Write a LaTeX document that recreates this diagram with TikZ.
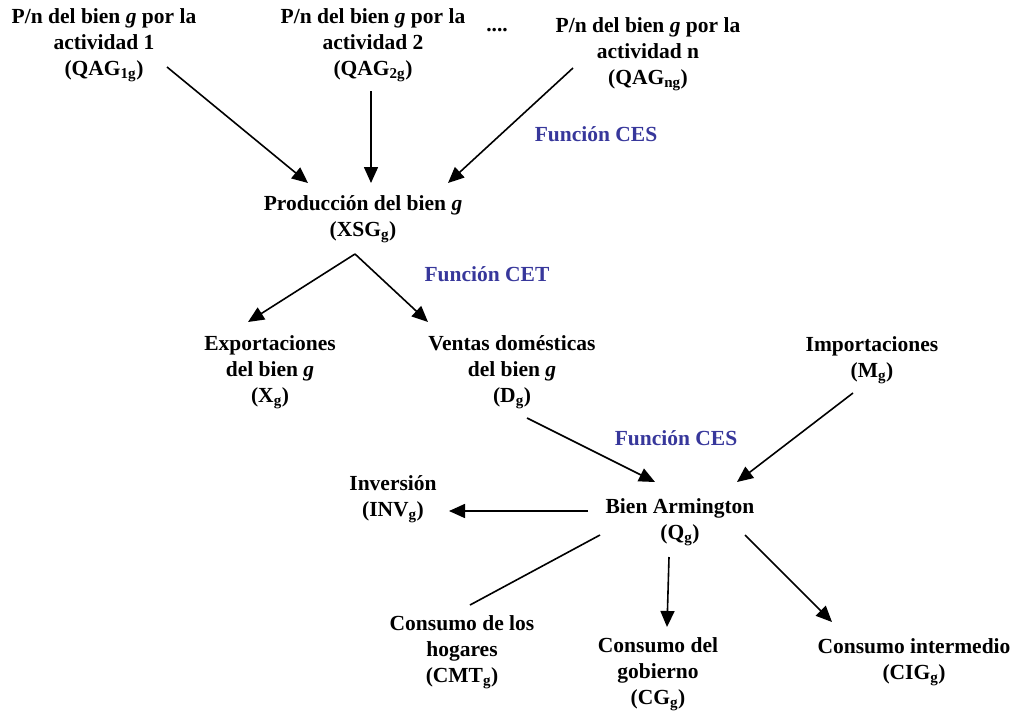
\documentclass[tikz,border=0pt]{standalone}
\usepackage{fontspec}
\setmainfont{Liberation Serif}
\usetikzlibrary{arrows.meta}
\usetikzlibrary{positioning}
\definecolor{azulfuncion}{RGB}{55,55,155}

\begin{document}
\begin{tikzpicture}[x=1pt,y=-1pt,
        bloque/.style={align=center, font=\fontsize{21.5}{26}\selectfont\bfseries},
        funcion/.style={text=azulfuncion, font=\fontsize{21.5}{26}\selectfont\bfseries},
        flecha/.style={line width=1.6pt, -{Triangle[length=16pt,width=14pt]}},
        linea/.style={line width=1.6pt}]
        \useasboundingbox (0,0) rectangle (1020,713);

        % actividades
        \node[bloque] (act1) at (104,45) {P/n del bien \textit{g} por la\\actividad 1\\(QAG\textsubscript{1g})};
        \node[bloque] (act2) at (373,45) {P/n del bien \textit{g} por la\\actividad 2\\(QAG\textsubscript{2g})};
        \node[bloque] (puntos) at (497,30) {....};
        \node[bloque] (actn) at (648,54) {P/n del bien \textit{g} por la\\actividad n\\(QAG\textsubscript{ng})};
        \node[funcion] (ces1) at (596,134) {Función CES};

        \node[bloque] (prod) at (363,219) {Producción del bien \textit{g}\\(XSG\textsubscript{g})};
        \node[funcion] (cet) at (487,274) {Función CET};

        \node[bloque] (expo) at (270,372) {Exportaciones\\del bien \textit{g}\\(X\textsubscript{g})};
        \node[bloque] (ventas) at (512,372) {Ventas domésticas\\del bien \textit{g}\\(D\textsubscript{g})};
        \node[bloque] (impo) at (872,360) {Importaciones\\(M\textsubscript{g})};
        \node[funcion] (ces2) at (676,438) {Función CES};

        \node[bloque] (arm) at (680,522) {Bien Armington\\(Q\textsubscript{g})};
        \node[bloque] (inv) at (393,499) {Inversión\\(INV\textsubscript{g})};

        \node[bloque] (hog) at (462,652) {Consumo de los\\hogares\\(CMT\textsubscript{g})};
        \node[bloque] (gob) at (658,674) {Consumo del\\gobierno\\(CG\textsubscript{g})};
        \node[bloque] (cig) at (914,662) {Consumo intermedio\\(CIG\textsubscript{g})};

        \draw [flecha] ([shift={(63,22)}]act1.center) -- ([shift={(-55,-36)}]prod.center);
        \draw [flecha] ([shift={(-2,46)}]act2.center) -- ([shift={(8,-36)}]prod.center);
        \draw [flecha] ([shift={(-75,14)}]actn.center) -- ([shift={(85,-36)}]prod.center);

        \draw [flecha] ([shift={(-8,35)}]prod.center) -- ([shift={(-22,-50)}]expo.center);
        \draw [flecha] ([shift={(-8,35)}]prod.center) -- ([shift={(-84,-50)}]ventas.center);

        \draw [flecha] ([shift={(15,46)}]ventas.center) -- ([shift={(-25,-40)}]arm.center);
        \draw [flecha] ([shift={(-19,33)}]impo.center) -- ([shift={(57,-40)}]arm.center);

        \draw [flecha] ([shift={(-92,-11)}]arm.center) -- ([shift={(56,12)}]inv.center);
        \draw [linea] ([shift={(-80,13)}]arm.center) -- ([shift={(8,-47)}]hog.center);
        \draw [flecha] ([shift={(-11,35)}]arm.center) -- ([shift={(9,-47)}]gob.center);
        \draw [flecha] ([shift={(65,13)}]arm.center) -- ([shift={(-82,-40)}]cig.center);
\end{tikzpicture}
\end{document}
